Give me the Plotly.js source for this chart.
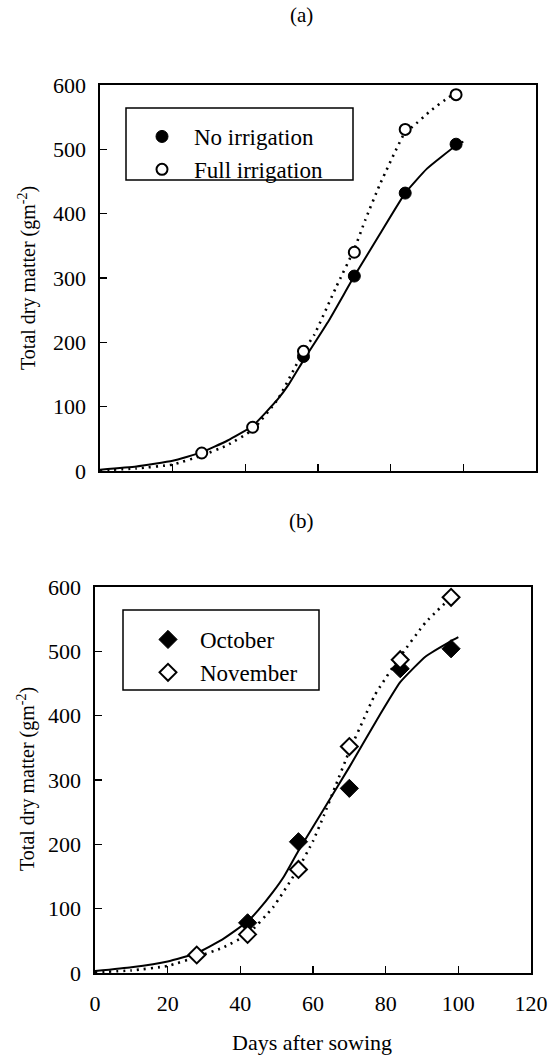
<!DOCTYPE html>
<html>
<head>
<meta charset="utf-8">
<script src="https://cdn.plot.ly/plotly-3.0.1.min.js"></script>
<style>html,body{margin:0;padding:0;background:#fff;}#chart{width:557px;height:1055px;}</style>
</head>
<body>
<div id="chart"></div>
<script>
// ---- Panel (a) data ----
const daysA = [28, 42, 56, 70, 84, 98];
const fullIrrigation = [28, 68, 186, 340, 531, 585];
const daysNoIrr = [56, 70, 84, 98];
const noIrrigation = [178, 303, 432, 508];
// fitted curves
const curveDaysNoIrr = [0, 10, 20, 28, 35, 42, 49, 52, 56, 63, 70, 77, 84, 90, 98, 100];
const curveNoIrr = [2, 7, 16, 29, 47, 70, 112, 135, 172, 234, 303, 368, 432, 470, 506, 512];
const curveDaysFull = [0, 10, 20, 28, 35, 42, 49, 56, 59, 65, 70, 73, 77, 84, 86, 91, 96, 98];
const curveFull = [1, 4, 10, 24, 40, 64, 112, 186, 212, 286, 345, 390, 445, 527, 535, 560, 581, 587];

// ---- Panel (b) data ----
const daysOct = [42, 56, 70, 84, 98];
const october = [78, 204, 287, 473, 504];
const daysNov = [28, 42, 56, 70, 84, 98];
const november = [28, 60, 161, 352, 487, 584];
const curveDaysOct = [0, 10, 20, 28, 35, 42, 45, 49, 52, 56, 63, 70, 77, 84, 91, 98, 100];
const curveOct = [3, 9, 18, 31, 52, 80, 98, 126, 150, 190, 255, 320, 388, 452, 492, 516, 522];
const curveDaysNov = [0, 10, 20, 28, 35, 42, 49, 56, 60, 63, 66, 70, 74, 77, 84, 91, 98];
const curveNov = [1, 4, 11, 25, 39, 60, 102, 163, 205, 245, 288, 345, 395, 432, 492, 545, 584];

const xTicks = [0, 20, 40, 60, 80, 100, 120];
const yTicks = [0, 100, 200, 300, 400, 500, 600];

const FONT = "Liberation Serif";
const solidLine = {color: 'black', width: 2, shape: 'spline', smoothing: 0.4};
const dotLine = {color: 'black', width: 2.6, dash: '2px,5px', shape: 'spline', smoothing: 0.4};

const traces = [
  {x: curveDaysNoIrr, y: curveNoIrr, mode: 'lines', line: solidLine, showlegend: false, xaxis: 'x', yaxis: 'y', hoverinfo: 'skip'},
  {x: curveDaysFull, y: curveFull, mode: 'lines', line: dotLine, showlegend: false, xaxis: 'x', yaxis: 'y', hoverinfo: 'skip'},
  {x: daysNoIrr, y: noIrrigation, mode: 'markers', name: 'No irrigation', legend: 'legend',
   marker: {symbol: 'circle', size: 12, color: 'black', line: {color: 'black', width: 1}}, xaxis: 'x', yaxis: 'y'},
  {x: daysA, y: fullIrrigation, mode: 'markers', name: 'Full irrigation', legend: 'legend',
   marker: {symbol: 'circle', size: 11, color: 'white', line: {color: 'black', width: 2}}, xaxis: 'x', yaxis: 'y'},

  {x: curveDaysOct, y: curveOct, mode: 'lines', line: solidLine, showlegend: false, xaxis: 'x2', yaxis: 'y2', hoverinfo: 'skip'},
  {x: curveDaysNov, y: curveNov, mode: 'lines', line: dotLine, showlegend: false, xaxis: 'x2', yaxis: 'y2', hoverinfo: 'skip'},
  {x: daysOct, y: october, mode: 'markers', name: 'October', legend: 'legend2',
   marker: {symbol: 'diamond', size: 14, color: 'black', line: {color: 'black', width: 1}}, xaxis: 'x2', yaxis: 'y2'},
  {x: daysNov, y: november, mode: 'markers', name: 'November', legend: 'legend2',
   marker: {symbol: 'diamond', size: 13, color: 'white', line: {color: 'black', width: 2}}, xaxis: 'x2', yaxis: 'y2'}
];

const W = 557, H = 1055;
const px = v => v / W;
const py = v => (H - v) / H;

const axisBase = {
  showline: true, mirror: true, linecolor: 'black', linewidth: 1.6,
  ticks: 'inside', ticklen: 7, tickwidth: 1.5, tickcolor: 'black',
  showgrid: false, zeroline: false, fixedrange: true,
  tickfont: {family: FONT, size: 22, color: 'black'}
};

const layout = {
  width: W, height: H,
  margin: {l: 0, r: 0, t: 0, b: 0},
  paper_bgcolor: 'white', plot_bgcolor: 'white',
  font: {family: FONT, color: 'black'},
  xaxis: Object.assign({}, axisBase, {domain: [px(100), px(536)], range: [0, 120], tickvals: xTicks, showticklabels: false, anchor: 'y'}),
  yaxis: Object.assign({}, axisBase, {domain: [py(471), py(85)], range: [0, 600], tickvals: yTicks, ticklabelstandoff: 8, anchor: 'x'}),
  xaxis2: Object.assign({}, axisBase, {domain: [px(95), px(531)], range: [0, 120], tickvals: xTicks, ticklabelstandoff: 10, anchor: 'y2'}),
  yaxis2: Object.assign({}, axisBase, {domain: [py(973), py(587)], range: [0, 600], tickvals: yTicks, ticklabelstandoff: 8, anchor: 'x2'}),
  legend: {x: px(130), y: py(115), xanchor: 'left', yanchor: 'top', bgcolor: 'rgba(0,0,0,0)', borderwidth: 0,
           font: {family: FONT, size: 23, color: 'black'}, itemwidth: 54, tracegroupgap: 0},
  legend2: {x: px(136), y: py(618), xanchor: 'left', yanchor: 'top', bgcolor: 'rgba(0,0,0,0)', borderwidth: 0,
           font: {family: FONT, size: 23, color: 'black'}, itemwidth: 54, tracegroupgap: 0},
  shapes: [
    {type: 'rect', xref: 'paper', yref: 'paper', x0: px(126), x1: px(353), y0: py(180), y1: py(108), line: {color: 'black', width: 1.5}},
    {type: 'rect', xref: 'paper', yref: 'paper', x0: px(123), x1: px(319), y0: py(690), y1: py(610), line: {color: 'black', width: 1.5}}
  ],
  annotations: [
    {text: '(a)', xref: 'paper', yref: 'paper', x: px(301), y: py(15), xanchor: 'center', yanchor: 'middle', showarrow: false, font: {family: FONT, size: 21}},
    {text: '(b)', xref: 'paper', yref: 'paper', x: px(301), y: py(521), xanchor: 'center', yanchor: 'middle', showarrow: false, font: {family: FONT, size: 21}},
    {text: 'Days after sowing', xref: 'paper', yref: 'paper', x: px(312), y: py(1042), xanchor: 'center', yanchor: 'middle', showarrow: false, font: {family: FONT, size: 22}},
    {text: 'Total dry matter (gm<sup>-2</sup>)', xref: 'paper', yref: 'paper', x: px(28), y: py(278), xanchor: 'center', yanchor: 'middle', textangle: -90, showarrow: false, font: {family: FONT, size: 20}},
    {text: 'Total dry matter (gm<sup>-2</sup>)', xref: 'paper', yref: 'paper', x: px(26), y: py(779), xanchor: 'center', yanchor: 'middle', textangle: -90, showarrow: false, font: {family: FONT, size: 20}}
  ]
};

Plotly.newPlot('chart', traces, layout, {displayModeBar: false, staticPlot: true});
</script>
</body>
</html>
